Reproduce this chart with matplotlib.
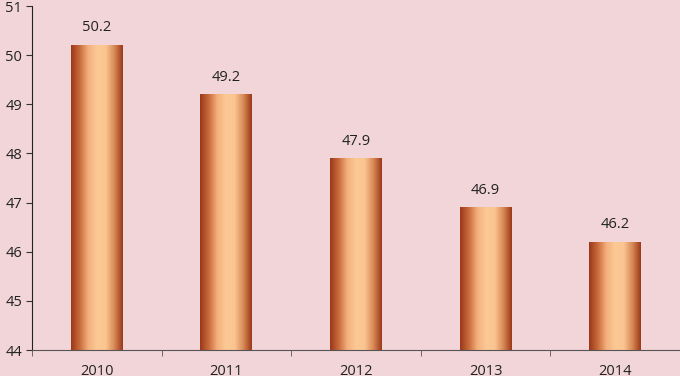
import matplotlib
matplotlib.use("Agg")
import matplotlib.pyplot as plt
import numpy as np
from matplotlib.colors import LinearSegmentedColormap

years = ["2010", "2011", "2012", "2013", "2014"]
values = [50.2, 49.2, 47.9, 46.9, 46.2]
yticks = [44, 45, 46, 47, 48, 49, 50, 51]

bg = "#f2d5d8"
plt.rcParams['font.family'] = ['Open Sans', 'DejaVu Sans']

fig = plt.figure(figsize=(6.8, 3.76), dpi=100, facecolor=bg)
ax = fig.add_axes([32/680, 26/376, 648/680, 344/376])
ax.set_facecolor(bg)

ymin, ymax = 44, 51

cmap = LinearSegmentedColormap.from_list(
    "bar", ["#9a3819", "#c86a3c", "#f4b07c", "#fcc894", "#fbc591", "#d98a56", "#9a3819"])
grad = np.linspace(0, 1, 256).reshape(1, -1)

width = 0.40
x = np.arange(len(years))
bars = ax.bar(x, [v - ymin for v in values], bottom=ymin, width=width,
              color="none", edgecolor="none", zorder=2)
for b, v in zip(bars, values):
    x0 = b.get_x()
    im = ax.imshow(grad, cmap=cmap, aspect="auto",
                   extent=[x0, x0 + width, ymin, v], zorder=2)
    im.set_clip_path(b)
    ax.text(b.get_x() + width / 2, v + 0.2, f"{v:.1f}", ha="center",
            va="bottom", fontsize=10.5, color="#222222")

ax.set_xlim(-0.5, len(years) - 0.5)
ax.set_ylim(ymin, ymax)
ax.set_yticks(yticks)
ax.set_yticklabels([str(t) for t in yticks], fontsize=10.5, color="#222222")
ax.set_xticks(x)
ax.set_xticklabels(years, fontsize=10.5, color="#222222")
ax.tick_params(axis="x", length=0, pad=10)
ax.set_xticks(np.arange(-0.5, len(years) + 0.5, 1), minor=True)
ax.tick_params(axis="x", which="minor", length=4, direction="out", color="#555555")
ax.tick_params(axis="y", length=4, direction="out", color="#333333", pad=3)

for s in ["top", "right"]:
    ax.spines[s].set_visible(False)
ax.spines["left"].set_color("#222222")
ax.spines["bottom"].set_color("#555555")

fig.savefig("out.png", dpi=100, facecolor=bg)
